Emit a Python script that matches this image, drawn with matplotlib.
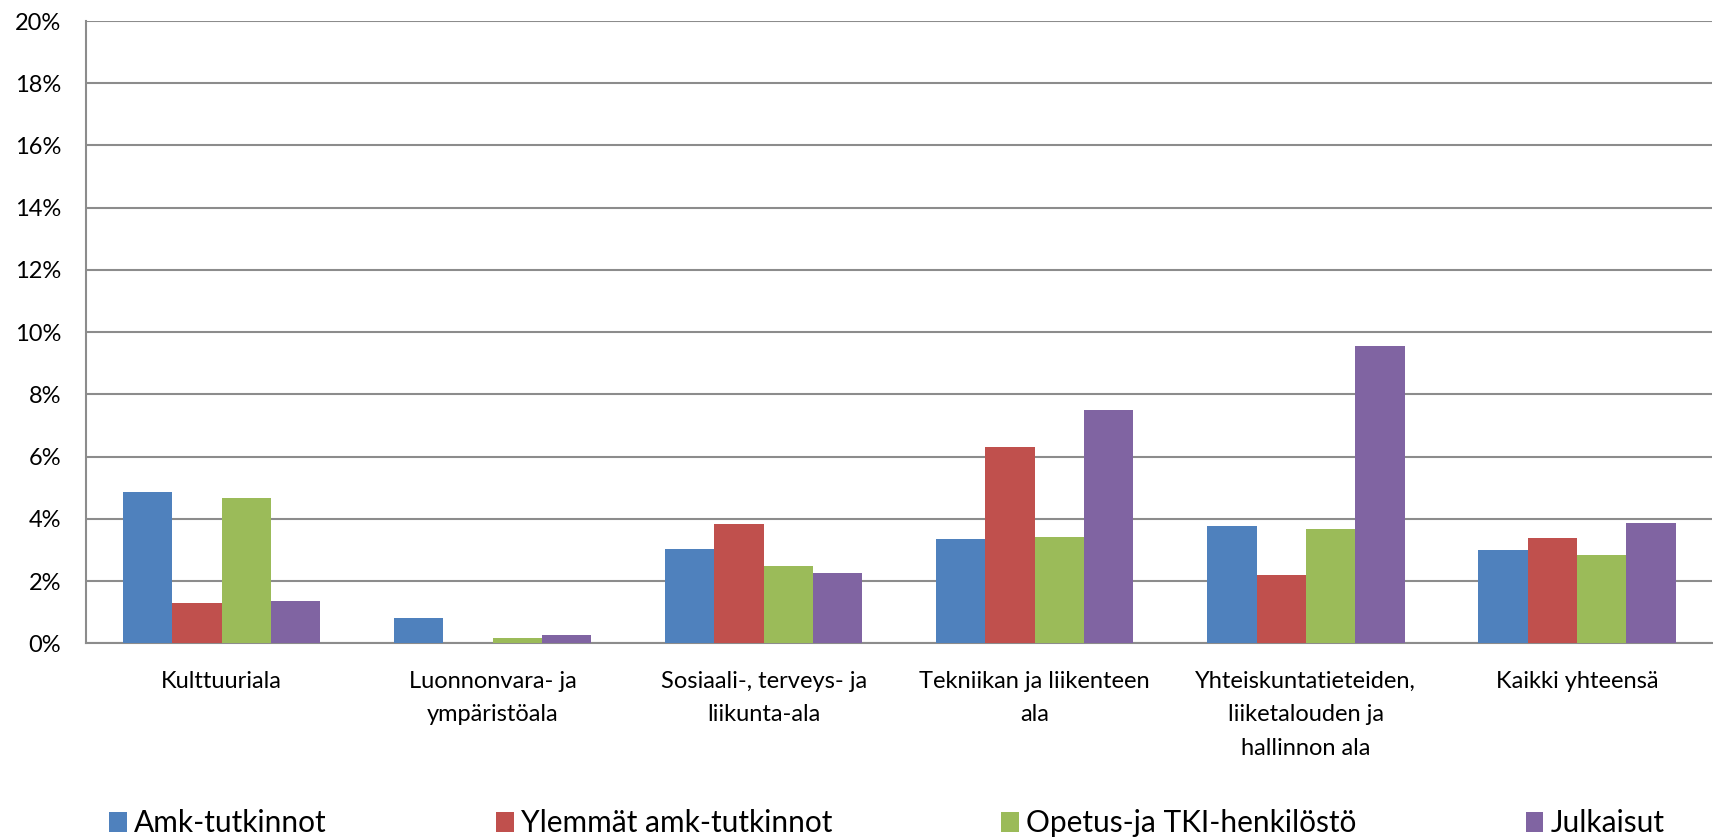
import matplotlib
matplotlib.use('Agg')
import matplotlib.pyplot as plt
import numpy as np

plt.rcParams['font.family'] = ['Lato', 'DejaVu Sans']

categories = ['Kulttuuriala', 'Luonnonvara- ja\nympäristöala', 'Sosiaali-, terveys- ja\nliikunta-ala',
              'Tekniikan ja liikenteen\nala', 'Yhteiskuntatieteiden,\nliiketalouden ja\nhallinnon ala',
              'Kaikki yhteensä']
series_names = ['Amk-tutkinnot', 'Ylemmät amk-tutkinnot', 'Opetus-ja TKI-henkilöstö', 'Julkaisut']
amk = [4.87, 0.82, 3.03, 3.35, 3.78, 3.01]
ylemmat = [1.29, 0.0, 3.85, 6.30, 2.20, 3.40]
opetus = [4.66, 0.19, 2.48, 3.42, 3.68, 2.84]
julkaisut = [1.35, 0.28, 2.26, 7.50, 9.57, 3.86]
colors = ['#4F81BD', '#C0504D', '#9BBB59', '#8064A2']

fig = plt.figure(figsize=(17.13, 8.4), dpi=100)
ax = fig.add_axes([0.0502, 0.234, 0.9495, 0.741])

x = np.arange(len(categories))
w = 0.182
for i, (vals, name) in enumerate(zip([amk, ylemmat, opetus, julkaisut], series_names)):
    ax.bar(x + (i - 1.5) * w, vals, width=w, color=colors[i], label=name, zorder=3)

ax.set_xlim(-0.5, len(categories) - 0.5)
ax.set_ylim(0, 20)
ax.set_yticks(np.arange(0, 21, 2))
ax.set_yticklabels([f'{v}%' for v in range(0, 21, 2)], fontsize=17)
ax.set_xticks(x)
ax.set_xticklabels(categories, fontsize=17, linespacing=1.72)
ax.tick_params(axis='both', length=0)
ax.tick_params(axis='y', pad=18)
ax.tick_params(axis='x', pad=20)
ax.yaxis.grid(True, color='#8c8c8c', lw=1.5, zorder=0)
for s in ['top', 'right']:
    ax.spines[s].set_visible(False)
for s in ['left', 'bottom']:
    ax.spines[s].set_color('#8c8c8c')
    ax.spines[s].set_linewidth(1.5)

fig.legend(loc='lower left', bbox_to_anchor=(0.0566, -0.011), ncol=4, frameon=False, fontsize=21.5,
           borderaxespad=0, handlelength=0.6, handleheight=0.65, handletextpad=0.25,
           columnspacing=5.65)

fig.savefig('out.png', dpi=100)
